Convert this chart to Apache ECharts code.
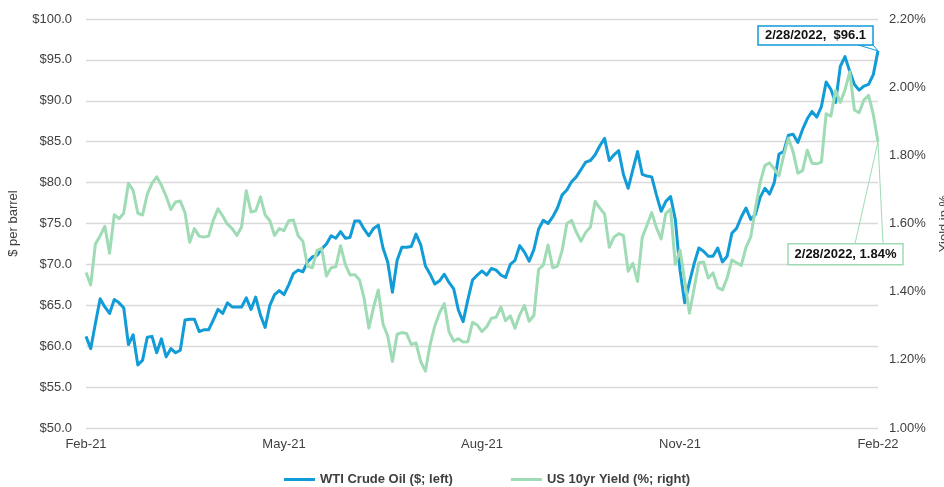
<!DOCTYPE html>
<html>
<head>
<meta charset="utf-8">
<script src="https://cdn.jsdelivr.net/npm/echarts@6/dist/echarts.min.js"></script>
<style>
html,body{margin:0;padding:0;background:#fff;}
#chart{width:944px;height:487px;}
</style>
</head>
<body>
<div id="chart"></div>
<script>
const tickLabels = ['Feb-21', 'May-21', 'Aug-21', 'Nov-21', 'Feb-22'];
const seriesNames = ['WTI Crude Oil ($; left)', 'US 10yr Yield (%; right)'];
const annotationTexts = ['2/28/2022,  $96.1', '2/28/2022, 1.84%'];

const wti = [
  61.2, 59.7, 62.8, 65.8, 64.8, 64.0, 65.7, 65.3, 64.7, 60.2,
  61.4, 57.7, 58.3, 61.1, 61.2, 59.2, 60.9, 58.7, 59.7, 59.2,
  59.5, 63.2, 63.3, 63.3, 61.8, 62.0, 62.0, 63.2, 64.5, 64.0,
  65.3, 64.8, 64.8, 64.8, 65.9, 64.5, 66.0, 63.8, 62.3, 65.0,
  66.3, 66.8, 66.3, 67.5, 68.9, 69.3, 69.1, 70.3, 70.9, 71.1,
  71.9, 72.5, 73.5, 73.2, 74.0, 73.2, 73.3, 75.3, 75.3, 74.3,
  73.5, 74.4, 74.8, 72.0, 70.3, 66.6, 70.5, 72.1, 72.1, 72.2,
  73.7, 72.4, 69.8, 68.8, 67.6, 68.0, 68.8, 67.8, 67.0, 64.4,
  63.0, 65.7, 68.1, 68.7, 69.2, 68.7, 69.5, 69.3, 68.7, 68.4,
  70.0, 70.5, 72.3, 71.5, 70.4, 71.8, 74.3, 75.4, 75.0, 75.8,
  76.9, 78.5, 79.1, 80.1, 80.7, 81.6, 82.5, 82.7, 83.4, 84.5,
  85.4, 82.7, 83.4, 83.9, 81.0, 79.3, 81.6, 83.8, 81.0, 80.8,
  80.7, 78.5, 76.5, 77.7, 78.3, 75.5, 69.3, 65.3, 67.8, 70.1,
  72.0, 71.6, 71.0, 71.0, 72.0, 70.3, 71.0, 73.8, 74.4, 75.8,
  76.9, 75.5, 76.1, 78.2, 79.3, 78.6, 80.0, 83.5, 83.8, 85.8,
  85.9, 84.9, 86.5, 87.8, 88.7, 88.0, 89.3, 92.3, 91.4, 89.8,
  94.2, 95.4, 93.6, 92.0, 91.3, 91.8, 92.0, 93.2, 96.1
];

const yield10 = [
  1.456, 1.420, 1.540, 1.564, 1.592, 1.513, 1.626, 1.614, 1.630, 1.718,
  1.697, 1.630, 1.625, 1.686, 1.718, 1.737, 1.712, 1.680, 1.641, 1.663,
  1.666, 1.632, 1.545, 1.585, 1.563, 1.560, 1.563, 1.610, 1.643, 1.622,
  1.598, 1.585, 1.565, 1.590, 1.696, 1.634, 1.637, 1.678, 1.625, 1.608,
  1.565, 1.585, 1.579, 1.608, 1.610, 1.564, 1.548, 1.475, 1.470, 1.521,
  1.527, 1.446, 1.470, 1.473, 1.535, 1.480, 1.449, 1.450, 1.435, 1.380,
  1.293, 1.355, 1.405, 1.305, 1.270, 1.195, 1.275, 1.280, 1.277, 1.245,
  1.250, 1.195, 1.167, 1.245, 1.300, 1.338, 1.365, 1.283, 1.255, 1.262,
  1.252, 1.253, 1.310, 1.302, 1.283, 1.297, 1.322, 1.325, 1.355, 1.315,
  1.329, 1.293, 1.332, 1.360, 1.313, 1.330, 1.465, 1.478, 1.537, 1.470,
  1.475, 1.521, 1.600, 1.609, 1.575, 1.548, 1.574, 1.590, 1.665, 1.645,
  1.628, 1.530, 1.560, 1.570, 1.565, 1.460, 1.483, 1.430, 1.560, 1.595,
  1.632, 1.588, 1.555, 1.630, 1.642, 1.480, 1.522, 1.432, 1.337, 1.410,
  1.485, 1.487, 1.440, 1.455, 1.412, 1.405, 1.440, 1.493, 1.485, 1.477,
  1.530, 1.560, 1.645, 1.720, 1.770, 1.778, 1.760, 1.740, 1.800, 1.850,
  1.810, 1.748, 1.755, 1.815, 1.777, 1.775, 1.780, 1.922, 1.915, 1.990,
  1.955, 1.992, 2.045, 1.933, 1.925, 1.962, 1.976, 1.920, 1.840
];

const BLUE = '#119BD7';
const GREEN = '#9FDBB4';
const FONT = '"Liberation Sans", Arial, sans-serif';
const n = wti.length;
const step = (n - 1) / (tickLabels.length - 1);
const categories = Array.from({length: n}, (_, i) => String(i));

const chart = echarts.init(document.getElementById('chart'), null, {renderer: 'canvas'});

chart.setOption({
  animation: false,
  backgroundColor: '#fff',
  textStyle: {fontFamily: FONT},
  grid: {left: 86, right: 66, top: 19, bottom: 59, containLabel: false, outerBoundsMode: 'none'},
  legend: {
    left: 279, top: 468,
    icon: 'rect', itemWidth: 31, itemHeight: 3, itemGap: 58,
    textStyle: {fontFamily: FONT, fontSize: 13, fontWeight: 'bold', color: '#404040'},
    data: seriesNames
  },
  xAxis: {
    type: 'category', data: categories, boundaryGap: false,
    axisLine: {show: false}, axisTick: {show: false},
    axisLabel: {
      interval: step - 1, margin: 10, fontSize: 13, color: '#404040', fontFamily: FONT,
      showMaxLabel: true,
      formatter: (v, idx) => tickLabels[Math.round(idx / step)] || ''
    },
    splitLine: {show: false}
  },
  yAxis: [
    {
      type: 'value', min: 50, max: 100, interval: 5, position: 'left',
      name: '$ per barrel', nameLocation: 'middle', nameGap: 66, nameRotate: 90,
      nameTextStyle: {fontSize: 13, color: '#404040', fontFamily: FONT},
      axisLine: {show: false}, axisTick: {show: false},
      axisLabel: {margin: 14, fontSize: 13, color: '#404040', fontFamily: FONT,
        formatter: v => '$' + v.toFixed(1)},
      splitLine: {show: true, lineStyle: {color: '#d9d9d9', width: 1.3}}
    },
    {
      type: 'value', min: 1.0, max: 2.2, interval: 0.2, position: 'right',
      name: 'Yield in %', nameLocation: 'middle', nameGap: 60, nameRotate: 90,
      nameTextStyle: {fontSize: 13, color: '#404040', fontFamily: FONT},
      axisLine: {show: false}, axisTick: {show: false},
      axisLabel: {margin: 11, fontSize: 13, color: '#404040', fontFamily: FONT,
        formatter: v => v.toFixed(2) + '%'},
      splitLine: {show: false}
    }
  ],
  series: [
    {
      name: seriesNames[0], type: 'line', yAxisIndex: 0, data: wti,
      showSymbol: false, symbol: 'none', color: BLUE,
      lineStyle: {color: BLUE, width: 3, join: 'round'}, z: 2
    },
    {
      name: seriesNames[1], type: 'line', yAxisIndex: 1, data: yield10,
      showSymbol: false, symbol: 'none', color: GREEN,
      lineStyle: {color: GREEN, width: 3, join: 'round'}, z: 3
    }
  ]
});

const pB = chart.convertToPixel({seriesIndex: 0}, [n - 1, wti[n - 1]]);
const pG = chart.convertToPixel({seriesIndex: 1}, [n - 1, yield10[n - 1]]);
const txtFont = 'bold 13px ' + FONT;

chart.setOption({
  graphic: [
    {type: 'polygon', z: 100, shape: {points: [[pB[0] - 20, pB[1] - 6], [pB[0], pB[1]], [pB[0] - 5, pB[1] - 6]]},
      style: {fill: '#fff', stroke: BLUE, lineWidth: 1}},
    {type: 'rect', z: 101, shape: {x: pB[0] - 120, y: pB[1] - 25, width: 115, height: 19},
      style: {fill: '#fff', stroke: BLUE, lineWidth: 1.5}},
    {type: 'text', z: 102, x: pB[0] - 62.5, y: pB[1] - 15.5,
      style: {text: annotationTexts[0], font: txtFont, fill: '#111', align: 'center', verticalAlign: 'middle'}},
    {type: 'polygon', z: 100, shape: {points: [[pG[0] - 23, pG[1] + 102], [pG[0], pG[1]], [pG[0] + 5, pG[1] + 102]]},
      style: {fill: 'rgba(255,255,255,0)', stroke: GREEN, lineWidth: 1}},
    {type: 'rect', z: 101, shape: {x: pG[0] - 90, y: pG[1] + 102, width: 115, height: 21},
      style: {fill: '#fff', stroke: GREEN, lineWidth: 1.5}},
    {type: 'text', z: 102, x: pG[0] - 32.5, y: pG[1] + 112.5,
      style: {text: annotationTexts[1], font: txtFont, fill: '#111', align: 'center', verticalAlign: 'middle'}}
  ]
});
</script>
</body>
</html>
